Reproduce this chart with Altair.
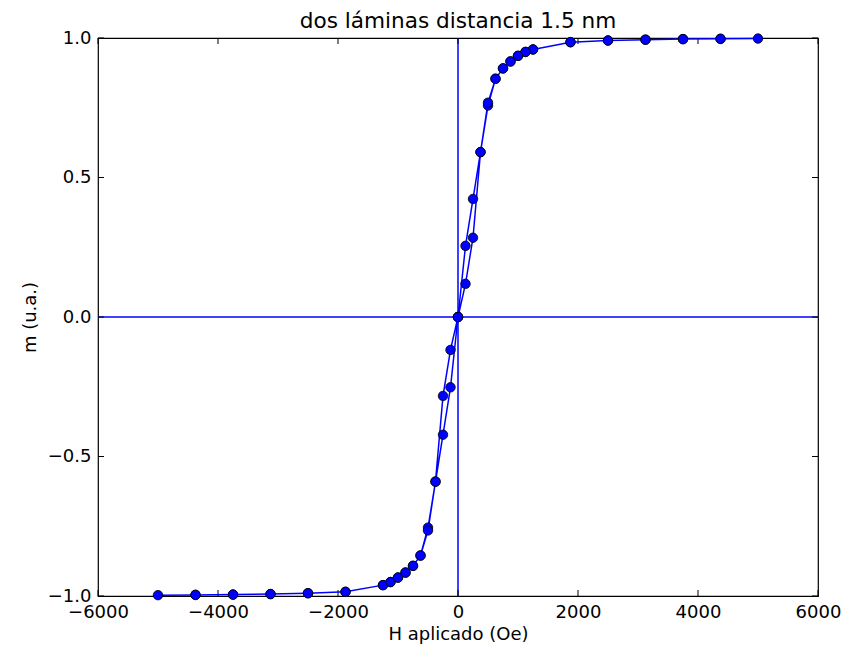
import altair as alt
import pandas as pd

# Field sweep (Oe) and normalized magnetization, in measurement order
H = [0, 125, 250, 375, 500, 625, 750, 875, 1000, 1125, 1250, 1875, 2500, 3125, 3750, 4375, 5000,
     4375, 3750, 3125, 2500, 1875, 1250, 1125, 1000, 875, 750, 625, 500, 375, 250, 125, 0,
     -125, -250, -375, -500, -625, -750, -875, -1000, -1125, -1250, -1875, -2500, -3125, -3750, -4375, -5000,
     -4375, -3750, -3125, -2500, -1875, -1250, -1125, -1000, -875, -750, -625, -500, -375, -250, -125, 0]
M = [0.0, 0.119, 0.284, 0.591, 0.758, 0.854, 0.891, 0.916, 0.936, 0.950, 0.959, 0.985, 0.991, 0.994, 0.996, 0.997, 0.998,
     0.997, 0.996, 0.994, 0.991, 0.985, 0.959, 0.950, 0.936, 0.916, 0.891, 0.854, 0.768, 0.591, 0.423, 0.255, 0.0,
     -0.118, -0.283, -0.590, -0.755, -0.855, -0.892, -0.916, -0.934, -0.950, -0.961, -0.985, -0.990, -0.993, -0.995, -0.996, -0.997,
     -0.996, -0.995, -0.993, -0.990, -0.985, -0.961, -0.950, -0.934, -0.916, -0.892, -0.855, -0.765, -0.590, -0.422, -0.252, 0.0]

x_ticks = [-6000, -4000, -2000, 0, 2000, 4000, 6000]
y_ticks = [-1.0, -0.5, 0.0, 0.5, 1.0]
title_text = "dos láminas distancia 1.5 nm"

df = pd.DataFrame({"H": H, "m": M, "i": list(range(len(H)))})
xt = pd.DataFrame({"v": x_ticks})
yt = pd.DataFrame({"v": y_ticks})

W, HT = 720, 558
xs = alt.Scale(domain=[-6000, 6000], nice=False, zero=False)
ys = alt.Scale(domain=[-1, 1], nice=False, zero=False)

font = "DejaVu Sans"
xaxis = alt.Axis(values=x_ticks, format="d", grid=False, domain=False, ticks=False,
                 labelFlush=False, labelOverlap=False,
                 labelFontSize=18, labelPadding=7, labelColor="black", labelFont=font,
                 title="H aplicado (Oe)", titleFontSize=18, titleFont=font, titleFontWeight="normal",
                 titleColor="black", titlePadding=4)
yaxis = alt.Axis(values=y_ticks, format=".1f", grid=False, domain=False, ticks=False,
                 labelFlush=False, labelOverlap=False,
                 labelFontSize=18, labelPadding=7, labelColor="black", labelFont=font,
                 title="m (u.a.)", titleFontSize=18, titleFont=font, titleFontWeight="normal",
                 titleColor="black", titlePadding=8)

base = alt.Chart(df)

line = base.mark_line(color="#0000ff", strokeWidth=1.5).encode(
    x=alt.X("H:Q", scale=xs, axis=xaxis),
    y=alt.Y("m:Q", scale=ys, axis=yaxis),
    order="i:Q",
)
pts = base.mark_point(shape="circle", filled=True, fill="#0000ff", stroke="black",
                      strokeWidth=0.8, size=90, opacity=1).encode(
    x=alt.X("H:Q", scale=xs),
    y=alt.Y("m:Q", scale=ys),
)

zero = pd.DataFrame({"z": [0]})
hline = alt.Chart(zero).mark_rule(color="#0000ff", strokeWidth=1.5).encode(
    y=alt.Y("z:Q", scale=ys))
vline = alt.Chart(zero).mark_rule(color="#0000ff", strokeWidth=1.5).encode(
    x=alt.X("z:Q", scale=xs))

tk = dict(color="black", strokeWidth=1)
xt_bot = alt.Chart(xt).mark_rule(**tk).encode(x=alt.X("v:Q", scale=xs), y=alt.value(HT), y2=alt.value(HT - 6))
xt_top = alt.Chart(xt).mark_rule(**tk).encode(x=alt.X("v:Q", scale=xs), y=alt.value(0), y2=alt.value(6))
yt_l = alt.Chart(yt).mark_rule(**tk).encode(y=alt.Y("v:Q", scale=ys), x=alt.value(0), x2=alt.value(6))
yt_r = alt.Chart(yt).mark_rule(**tk).encode(y=alt.Y("v:Q", scale=ys), x=alt.value(W), x2=alt.value(W - 6))

title = alt.Chart(pd.DataFrame({"t": [title_text]})).mark_text(
    font=font, fontSize=21.6, color="black", align="center", baseline="alphabetic"
).encode(text="t:N", x=alt.value(W / 2), y=alt.value(-10))

chart = alt.layer(hline, vline, xt_bot, xt_top, yt_l, yt_r, line, pts, title).properties(
    width=W, height=HT,
    autosize=alt.AutoSizeParams(type="none"),
    padding={"left": 90, "top": 30, "right": 33, "bottom": 50},
    background="white",
).configure_view(stroke="black", strokeWidth=1.2)

chart.save("out.html", embed_options={"renderer": "svg", "actions": False})
